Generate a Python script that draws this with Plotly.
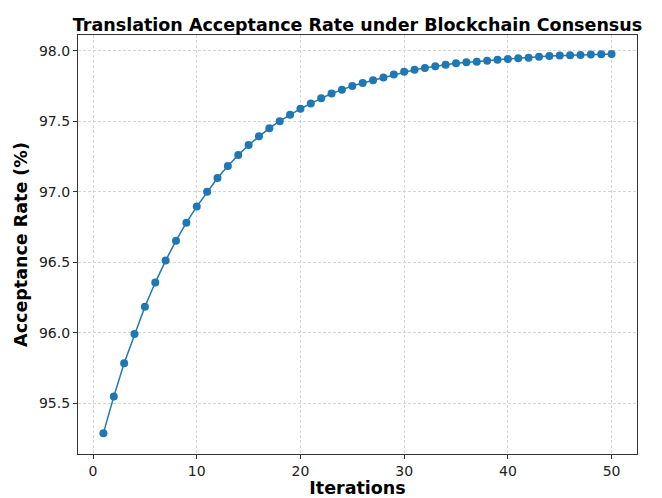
import plotly.graph_objects as go

iterations = list(range(1, 51))
acceptance_rate = [
    95.287, 95.546, 95.783, 95.991, 96.184, 96.355, 96.511, 96.652, 96.780, 96.894,
    97.000, 97.097, 97.182, 97.260, 97.330, 97.392, 97.450, 97.500, 97.545, 97.588,
    97.626, 97.663, 97.696, 97.722, 97.750, 97.770, 97.790, 97.810, 97.830, 97.850,
    97.865, 97.877, 97.890, 97.900, 97.910, 97.918, 97.922, 97.929, 97.936, 97.940,
    97.946, 97.950, 97.957, 97.962, 97.965, 97.967, 97.970, 97.972, 97.974, 97.977,
]
x_ticks = [0, 10, 20, 30, 40, 50]
y_ticks = [95.5, 96.0, 96.5, 97.0, 97.5, 98.0]

fig = go.Figure()
fig.add_trace(go.Scatter(
    x=iterations, y=acceptance_rate, mode="lines+markers",
    line=dict(color="#1f77b4", width=1.5),
    marker=dict(color="#1f77b4", size=8),
))

axis_common = dict(
    showline=True, linecolor="#333333", linewidth=1.2, mirror=True,
    ticks="outside", ticklen=4, tickwidth=1, tickcolor="#333333",
    showgrid=True, gridcolor="#d6d6d6", griddash="3px,2px", gridwidth=1,
    zeroline=False, automargin=False,
    tickfont=dict(family="DejaVu Sans", size=14, color="#222222"),
)

fig.update_layout(
    width=662, height=498,
    margin=dict(l=78, r=25, t=35, b=44),
    paper_bgcolor="white", plot_bgcolor="white",
    showlegend=False,
    title=dict(
        text="<b>Translation Acceptance Rate under Blockchain Consensus</b>",
        x=0.5, xref="paper", xanchor="center", y=0.95, yref="container", yanchor="middle",
        font=dict(family="DejaVu Sans", size=17.5, color="black"),
    ),
    xaxis=dict(
        range=[-1.45, 52.45], tickvals=x_ticks, ticktext=[str(v) for v in x_ticks],
        title=dict(text="<b>Iterations</b>", font=dict(family="DejaVu Sans", size=17.5, color="black"), standoff=6),
        **axis_common,
    ),
    yaxis=dict(
        range=[95.139, 98.111], tickvals=y_ticks, ticktext=[f"{v:.1f}" for v in y_ticks],
        title=dict(text="<b>Acceptance Rate (%)</b>", font=dict(family="DejaVu Sans", size=17.5, color="black"), standoff=6),
        **axis_common,
    ),
)

fig.write_html(
    "out.html",
    config={"displayModeBar": False},
    post_script="document.body.style.margin='0';document.body.style.overflow='hidden';",
)
